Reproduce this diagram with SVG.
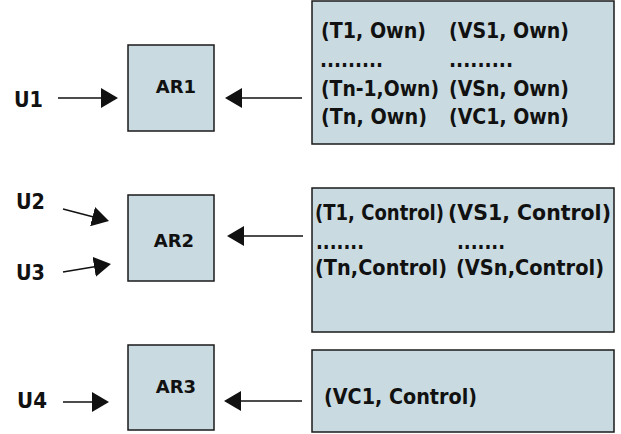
<svg xmlns="http://www.w3.org/2000/svg" width="621" height="434" viewBox="0 0 621 434">
<defs>
<style>
.box{fill:#c9dbe1;stroke:#1a1a1a;stroke-width:1.5}
.t{font-family:"DejaVu Sans","Liberation Sans",sans-serif;font-weight:bold;fill:#111}
.u{font-size:21px}
.ar{font-size:18px;text-anchor:middle}
.bt{font-size:20.5px}
.conn{stroke:#111;stroke-width:1.5;fill:none;marker-end:url(#ah)}
</style>
<marker id="ah" markerUnits="userSpaceOnUse" viewBox="0 0 17 20" markerWidth="17" markerHeight="20" refX="14" refY="10" orient="auto">
<path d="M0,0 L17,10 L0,20 Z" fill="#111"/>
</marker>
</defs>
<rect width="621" height="434" fill="#fff"/>
<g id="u1"><text class="t u" x="14" y="107" textLength="29" lengthAdjust="spacingAndGlyphs">U1</text></g>
<g id="u2"><text class="t u" x="16" y="209" textLength="29" lengthAdjust="spacingAndGlyphs">U2</text></g>
<g id="u3"><text class="t u" x="16" y="280" textLength="29" lengthAdjust="spacingAndGlyphs">U3</text></g>
<g id="u4"><text class="t u" x="17" y="408" textLength="30" lengthAdjust="spacingAndGlyphs">U4</text></g>
<g id="ar1"><rect class="box" x="128" y="45" width="86" height="86"/><text class="t ar" x="176" y="93">AR1</text></g>
<g id="ar2"><rect class="box" x="128" y="195" width="86" height="86"/><text class="t ar" x="174" y="247">AR2</text></g>
<g id="ar3"><rect class="box" x="128" y="345" width="86" height="85"/><text class="t ar" x="176" y="393">AR3</text></g>
<g id="own">
<rect class="box" x="312" y="1" width="302" height="143"/>
<text class="t bt" x="321" y="38" textLength="105" lengthAdjust="spacingAndGlyphs">(T1, Own)</text>
<text class="t bt" x="449" y="38" textLength="120" lengthAdjust="spacingAndGlyphs">(VS1, Own)</text>
<text class="t bt" x="320" y="67" textLength="63" lengthAdjust="spacingAndGlyphs">.........</text>
<text class="t bt" x="449" y="67" textLength="64" lengthAdjust="spacingAndGlyphs">.........</text>
<text class="t bt" x="321" y="96" textLength="118" lengthAdjust="spacingAndGlyphs">(Tn-1,Own)</text>
<text class="t bt" x="449" y="96" textLength="120" lengthAdjust="spacingAndGlyphs">(VSn, Own)</text>
<text class="t bt" x="321" y="124" textLength="106" lengthAdjust="spacingAndGlyphs">(Tn, Own)</text>
<text class="t bt" x="449" y="124" textLength="120" lengthAdjust="spacingAndGlyphs">(VC1, Own)</text>
</g>
<g id="control">
<rect class="box" x="312" y="188" width="302" height="144"/>
<text class="t bt" x="315" y="220" textLength="129" lengthAdjust="spacingAndGlyphs">(T1, Control)</text>
<text class="t bt" x="448" y="220" textLength="163" lengthAdjust="spacingAndGlyphs">(VS1, Control)</text>
<text class="t bt" x="316" y="249" textLength="48" lengthAdjust="spacingAndGlyphs">.......</text>
<text class="t bt" x="457" y="249" textLength="48" lengthAdjust="spacingAndGlyphs">.......</text>
<text class="t bt" x="315" y="275" textLength="132" lengthAdjust="spacingAndGlyphs">(Tn,Control)</text>
<text class="t bt" x="456" y="275" textLength="148" lengthAdjust="spacingAndGlyphs">(VSn,Control)</text>
</g>
<g id="vc1">
<rect class="box" x="312" y="350" width="302" height="82"/>
<text class="t bt" x="324" y="404" textLength="153" lengthAdjust="spacingAndGlyphs">(VC1, Control)</text>
</g>
<g id="connectors">
<line class="conn" x1="58" y1="98" x2="115" y2="98"/>
<line class="conn" x1="302" y1="98" x2="228" y2="98"/>
<line class="conn" x1="63" y1="209" x2="106.1" y2="220.2"/>
<line class="conn" x1="63" y1="272" x2="108" y2="264.5"/>
<line class="conn" x1="303" y1="236" x2="230" y2="236"/>
<line class="conn" x1="63" y1="402" x2="106" y2="402"/>
<line class="conn" x1="302" y1="401" x2="227" y2="401"/>
</g>
</svg>
